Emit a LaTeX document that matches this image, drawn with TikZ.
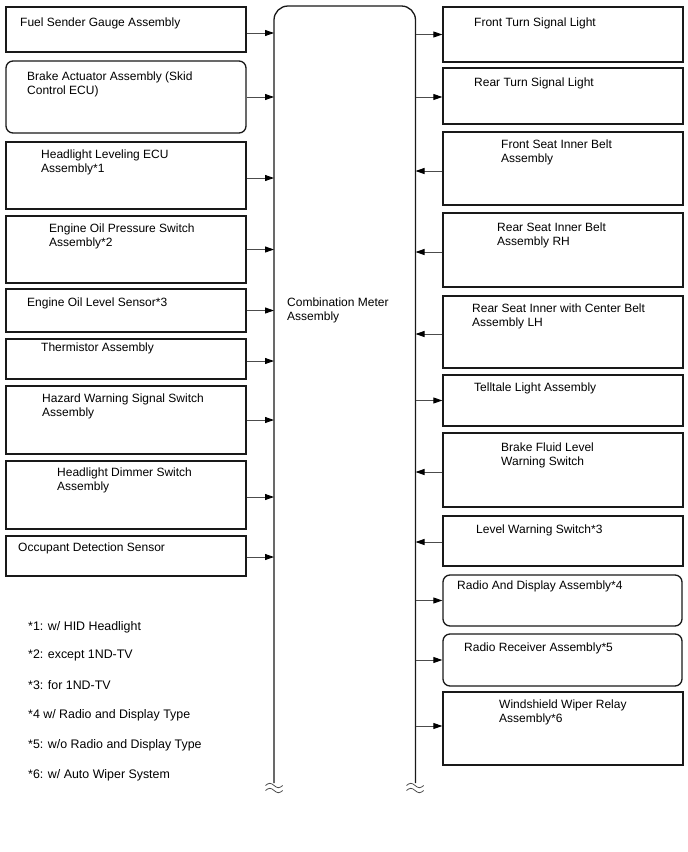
\documentclass[tikz,border=0pt]{standalone}
\usepackage{fontspec}
\setmainfont{Liberation Sans}
\usetikzlibrary{fit,arrows.meta}
\begin{document}
\begin{tikzpicture}[x=1pt,y=-1pt,
  box/.style={draw=black!90, line width=1.3pt, inner sep=0pt, fill=none},
  rbox/.style={box, rounded corners=7pt},
  txt/.style={anchor=north west, inner sep=0pt, align=left, font=\fontsize{12}{14}\selectfont},
  note/.style={txt, font=\fontsize{12.4}{14}\selectfont},
  arr/.style={draw=black!70, line width=0.9pt, -{Triangle[length=9pt,width=6pt,color=black,fill=black]}},
  colline/.style={draw=black!90, line width=1.3pt},
  brk/.style={draw=black!70, line width=0.8pt}]
\useasboundingbox (0,0) rectangle (688,852);

% column
\draw[colline, rounded corners=14pt] (274,783) -- (274,6) -- (415.5,6) -- (415.5,783);
\coordinate (colL) at (274,400);
\coordinate (colR) at (415.5,400);
\node[txt] (cm) at (287,298) {Combination Meter\\Assembly};
% breaks
\draw[brk] (265.5,785.5) sin (269.8,783.3) cos (274.1,785.5) sin (278.4,787.7) cos (282.7,785.5);
\draw[brk] (265.5,790.5) sin (269.8,788.3) cos (274.1,790.5) sin (278.4,792.7) cos (282.7,790.5);
\draw[brk] (406.5,785.5) sin (410.8,783.3) cos (415.1,785.5) sin (419.4,787.7) cos (423.7,785.5);
\draw[brk] (406.5,790.5) sin (410.8,788.3) cos (415.1,790.5) sin (419.4,792.7) cos (423.7,790.5);

% left boxes
\node[box,  fit={(6,7)(246,52)}]    (l1) {};
\node[rbox, fit={(6,61)(246,133)}]  (l2) {};
\node[box,  fit={(6,142)(246,209)}] (l3) {};
\node[box,  fit={(6,216)(246,283)}] (l4) {};
\node[box,  fit={(6,289)(246,332)}] (l5) {};
\node[box,  fit={(6,339)(246,379)}] (l6) {};
\node[box,  fit={(6,386)(246,454)}] (l7) {};
\node[box,  fit={(6,461)(246,529)}] (l8) {};
\node[box,  fit={(6,536)(246,576)}] (l9) {};

\node[txt] (t1) at (20,18)  {Fuel Sender Gauge Assembly};
\node[txt] (t2) at (27,72)  {Brake Actuator Assembly (Skid\\Control ECU)};
\node[txt] (t3) at (41,150) {Headlight Leveling ECU\\Assembly*1};
\node[txt] (t4) at (49,224) {Engine Oil Pressure Switch\\Assembly*2};
\node[txt] (t5) at (27,298) {Engine Oil Level Sensor*3};
\node[txt] (t6) at (41,343) {Thermistor Assembly};
\node[txt] (t7) at (42,394) {Hazard Warning Signal Switch\\Assembly};
\node[txt] (t8) at (57,468) {Headlight Dimmer Switch\\Assembly};
\node[txt] (t9) at (18,543) {Occupant Detection Sensor};

\draw[arr] ([yshift=-3.5pt]l1.east) -- ([yshift=-3.5pt]l1.east -| colL);
\foreach \b/\s in {l2/0,l3/-2.5,l4/0,l5/0,l6/-2,l7/0,l8/-2,l9/-1}
  \draw[arr] ([yshift=\s pt]\b.east) -- ([yshift=\s pt]\b.east -| colL);

% right boxes
\node[box,  fit={(443,7)(683,62)}]    (r1) {};
\node[box,  fit={(443,68)(683,124)}]  (r2) {};
\node[box,  fit={(443,132)(683,205)}] (r3) {};
\node[box,  fit={(443,213)(683,287)}] (r4) {};
\node[box,  fit={(443,296)(683,368)}] (r5) {};
\node[box,  fit={(443,375)(683,426)}] (r6) {};
\node[box,  fit={(443,433)(683,507)}] (r7) {};
\node[box,  fit={(443,516)(683,566)}] (r8) {};
\node[rbox, fit={(443,575)(682,626)}] (r9) {};
\node[rbox, fit={(443,634)(682,686)}] (r10) {};
\node[box,  fit={(443,692)(683,765)}] (r11) {};

\node[txt] (u1) at (474,18)  {Front Turn Signal Light};
\node[txt] (u2) at (474,78)  {Rear Turn Signal Light};
\node[txt] (u3) at (501,140) {Front Seat Inner Belt\\Assembly};
\node[txt] (u4) at (497,223) {Rear Seat Inner Belt\\Assembly RH};
\node[txt] (u5) at (472,304) {Rear Seat Inner with Center Belt\\Assembly LH};
\node[txt] (u6) at (474,383) {Telltale Light Assembly};
\node[txt] (u7) at (501,443) {Brake Fluid Level\\Warning Switch};
\node[txt] (u8) at (476,525) {Level Warning Switch*3};
\node[txt] (u9) at (457,581) {Radio And Display Assembly*4};
\node[txt] (u10) at (464,643) {Radio Receiver Assembly*5};
\node[txt] (u11) at (499,700) {Windshield Wiper Relay\\Assembly*6};

% outgoing
\foreach \b/\s in {r1/0,r2/-1,r6/0,r9/0,r10/0,r11/2.5}
  \draw[arr] ([yshift=\s pt]\b.west -| colR) -- ([yshift=\s pt]\b.west);
% incoming
\foreach \b/\s in {r3/-2.5,r4/-2,r5/-2,r7/-2,r8/-1}
  \draw[arr] ([yshift=\s pt]\b.west) -- ([yshift=\s pt]\b.west -| colR);

% footnotes
\node[note] (f1) at (28,621) {*1: w/ HID Headlight};
\node[note] (f2) at (28,650) {*2: except 1ND-TV};
\node[note] (f3) at (28,680) {*3: for 1ND-TV};
\node[note] (f4) at (28,709) {*4 w/ Radio and Display Type};
\node[note] (f5) at (28,739) {*5: w/o Radio and Display Type};
\node[note] (f6) at (28,769) {*6: w/ Auto Wiper System};
\end{tikzpicture}
\end{document}
